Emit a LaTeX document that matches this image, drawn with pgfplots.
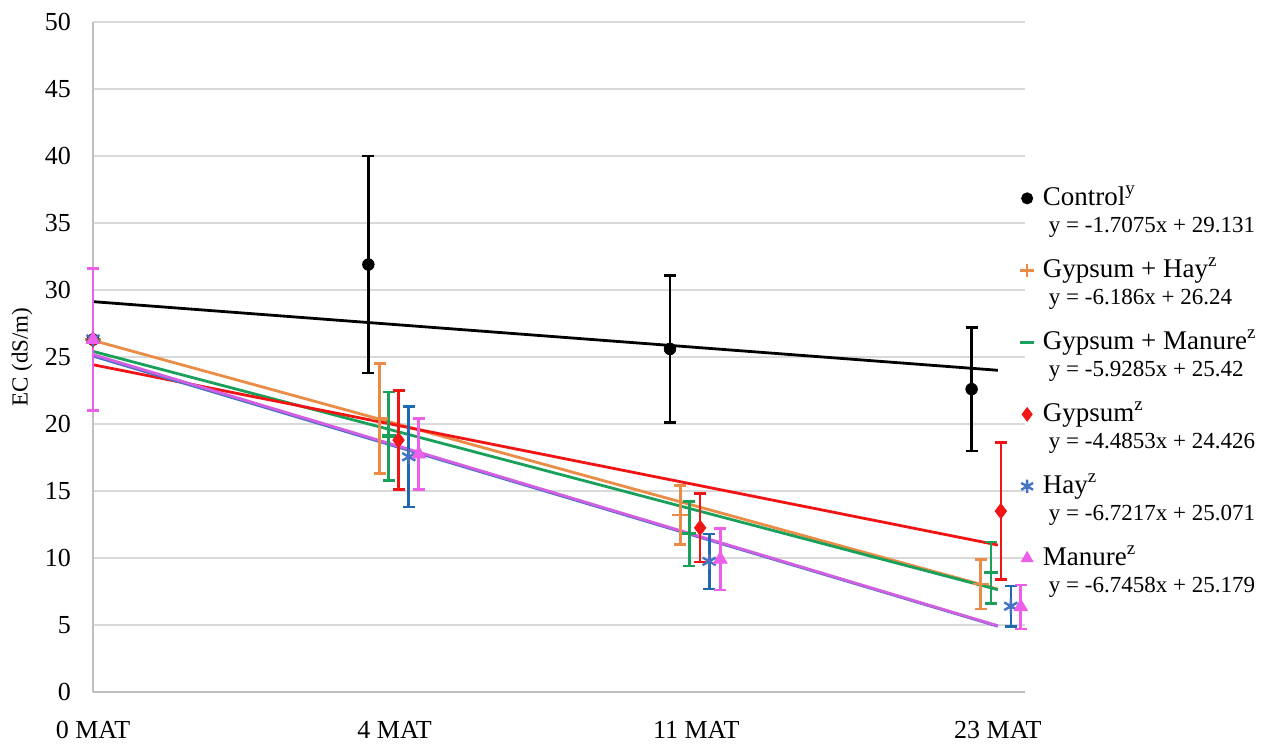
\documentclass[border=0pt]{standalone}
\usepackage{fontspec}
\setmainfont{Liberation Serif}
\usepackage{pgfplots}
\usepackage{pgfplotstable}
\pgfplotsset{compat=1.18}
\definecolor{cOrange}{RGB}{234,140,70}
\definecolor{cGreen}{RGB}{25,160,90}
\definecolor{cRed}{RGB}{240,20,20}
\definecolor{cBlueBar}{RGB}{30,105,175}
\definecolor{cBlue}{RGB}{68,114,196}
\definecolor{cPink}{RGB}{235,95,235}
\definecolor{cPinkLine}{RGB}{210,95,225}
\definecolor{cGrid}{RGB}{217,217,217}
\definecolor{cAxis}{RGB}{191,191,191}

\pgfplotstableread{
x y e
0 26.3 5.3
0.913 31.9 8.1
1.913 25.6 5.5
2.913 22.6 4.6
}\control
\pgfplotstableread{
x y e
0 26.3 5.3
0.950 20.4 4.1
1.947 13.2 2.2
2.943 8.05 1.85
}\gyphay
\pgfplotstableread{
x y e
0 26.3 5.3
0.980 19.1 3.3
1.977 11.8 2.4
2.977 8.9 2.3
}\gypman
\pgfplotstableread{
x y e
0 26.3 5.3
1.013 18.8 3.7
2.013 12.25 2.55
3.010 13.5 5.1
}\gypsum
\pgfplotstableread{
x y e
0 26.35 5.3
1.047 17.55 3.75
2.043 9.75 2.05
3.043 6.4 1.5
}\hay
\pgfplotstableread{
x y e
0 26.3 5.3
1.080 17.75 2.65
2.080 9.9 2.3
3.076 6.35 1.65
}\manure

\pgfplotsset{
  ebar/.style={only marks, forget plot,
    error bars/y dir=both, error bars/y explicit,
    error bars/error mark=-,
    error bars/error bar style={line width=1.3pt, draw=#1},
    error bars/error mark options={rotate=90, line width=1.3pt, mark size=3pt, draw=#1}},
  trend/.style={forget plot, no marks, line width=1.4pt, draw=#1},
}

\begin{document}
\begin{tikzpicture}
\useasboundingbox (-46.5pt,-27pt) rectangle (586.5pt,346pt);
\begin{axis}[
  scale only axis, width=466pt, height=335pt,
  xmin=0, xmax=3.09, ymin=0, ymax=50,
  axis lines=left,
  axis line style={-, draw=cAxis, line width=0.8pt},
  ytick={0,5,...,50},
  xtick={0,1,2,3}, xticklabels={0 MAT,4 MAT,11 MAT,23 MAT},
  major tick length=0pt,
  ymajorgrids, grid style={draw=cGrid, line width=0.75pt},
  /pgf/number format/assume math mode=true,
  yticklabel style={font=\fontsize{13}{15}\selectfont, xshift=-7.5pt},
  xticklabel style={font=\fontsize{13}{15}\selectfont, yshift=-11pt},
  ylabel={EC (dS/m)},
  every axis y label/.style={at={(axis description cs:0,0.5)}, xshift=-35.5pt, rotate=90, anchor=center, font=\fontsize{11.5}{13}\selectfont},
  clip=false,
  legend image code/.code={\draw[#1] plot coordinates {(0pt,3.5pt)};},
  legend cell align=left,
  legend style={at={(axis description cs:0.9946,0.7538)}, anchor=north west,
    draw=none, fill=none, inner sep=0pt, row sep=0pt, column sep=4.5pt,
    font=\fontsize{13.5}{15}\selectfont,
    nodes={inner sep=0pt, text height=9pt, text depth=9pt}},
]
% trend lines
\addplot[trend=black] coordinates {(0,29.131) (3,24.0085)};
\addplot[trend=cOrange] coordinates {(0,26.24) (3,7.682)};
\addplot[trend=cGreen] coordinates {(0,25.42) (3,7.6345)};
\addplot[trend=cRed] coordinates {(0,24.426) (3,10.9701)};
\addplot[trend=cBlue] coordinates {(0,25.071) (3,4.9059)};
\addplot[trend=cPinkLine] coordinates {(0,25.179) (3,4.9416)};
% data with error bars
\addplot[ebar=black, mark=*, mark size=2.9pt, mark options={fill=black, draw=black}] table[x=x, y=y, y error=e] {\control};
\addplot[ebar=cOrange, mark=+, mark size=4pt, mark options={draw=cOrange, line width=1.2pt}] table[x=x, y=y, y error=e] {\gyphay};
\addplot[ebar=cGreen, mark=-, mark size=3.5pt, mark options={draw=cGreen, line width=1.6pt}] table[x=x, y=y, y error=e] {\gypman};
\addplot[ebar=cRed, mark=diamond*, mark size=3.8pt, mark options={fill=cRed, draw=cRed}] table[x=x, y=y, y error=e] {\gypsum};
\addplot[ebar=cBlueBar, mark=asterisk, mark size=3.8pt, mark options={draw=cBlue, line width=1.2pt}] table[x=x, y=y, y error=e] {\hay};
\addplot[ebar=cPink, mark=triangle*, mark size=3.9pt, mark options={fill=cPink, draw=cPink}] table[x=x, y=y, y error=e] {\manure};
% legend
\addlegendimage{black, mark=*, mark size=2.8pt, mark options={fill=black}}
\addlegendentry{Control\textsuperscript{y}}
\addlegendimage{empty legend}
\addlegendentry{\raisebox{4.5pt}[0pt][0pt]{\hspace{3pt}\fontsize{11.5}{13}\selectfont y = -1.7075x + 29.131}}
\addlegendimage{cOrange, mark=+, mark size=3.4pt, mark options={line width=1.2pt}}
\addlegendentry{Gypsum + Hay\textsuperscript{z}}
\addlegendimage{empty legend}
\addlegendentry{\raisebox{4.5pt}[0pt][0pt]{\hspace{3pt}\fontsize{11.5}{13}\selectfont y = -6.186x + 26.24}}
\addlegendimage{cGreen, mark=-, mark size=3.4pt, mark options={line width=1.6pt}}
\addlegendentry{Gypsum + Manure\textsuperscript{z}}
\addlegendimage{empty legend}
\addlegendentry{\raisebox{4.5pt}[0pt][0pt]{\hspace{3pt}\fontsize{11.5}{13}\selectfont y = -5.9285x + 25.42}}
\addlegendimage{cRed, mark=diamond*, mark size=3.4pt, mark options={fill=cRed}}
\addlegendentry{Gypsum\textsuperscript{z}}
\addlegendimage{empty legend}
\addlegendentry{\raisebox{4.5pt}[0pt][0pt]{\hspace{3pt}\fontsize{11.5}{13}\selectfont y = -4.4853x + 24.426}}
\addlegendimage{cBlue, mark=asterisk, mark size=3.4pt, mark options={line width=1.2pt}}
\addlegendentry{Hay\textsuperscript{z}}
\addlegendimage{empty legend}
\addlegendentry{\raisebox{4.5pt}[0pt][0pt]{\hspace{3pt}\fontsize{11.5}{13}\selectfont y = -6.7217x + 25.071}}
\addlegendimage{cPink, mark=triangle*, mark size=3.4pt, mark options={fill=cPink}}
\addlegendentry{Manure\textsuperscript{z}}
\addlegendimage{empty legend}
\addlegendentry{\raisebox{4.5pt}[0pt][0pt]{\hspace{3pt}\fontsize{11.5}{13}\selectfont y = -6.7458x + 25.179}}
\end{axis}
\end{tikzpicture}
\end{document}
